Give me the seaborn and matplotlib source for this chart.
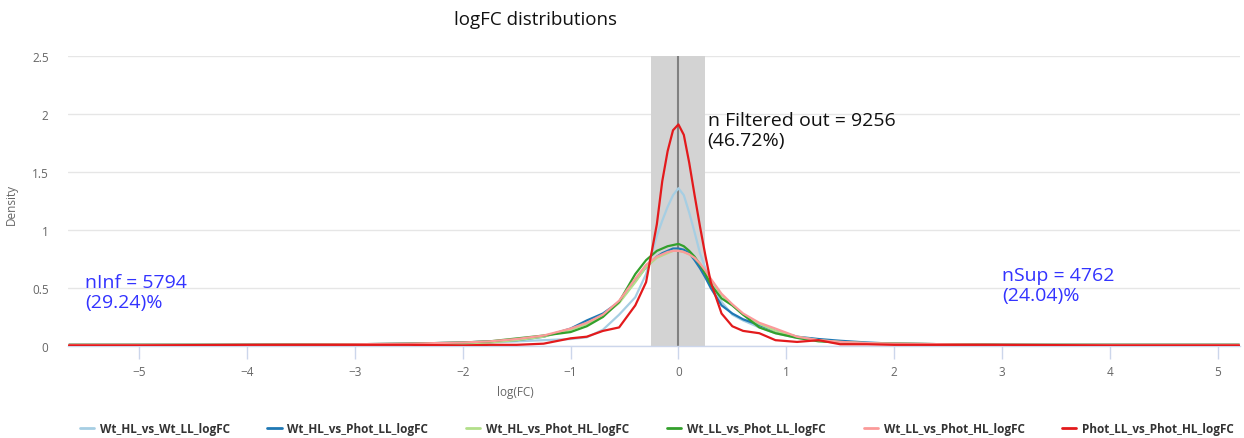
import numpy as np
import pandas as pd
import matplotlib
matplotlib.use("Agg")
import matplotlib.pyplot as plt
import seaborn as sns

# ---- data ----
x_vals = [-5.65, -5.0, -4.0, -3.0, -2.5, -2.0, -1.75, -1.5, -1.25, -1.0, -0.85, -0.7,
          -0.55, -0.4, -0.3, -0.2, -0.15, -0.1, -0.05, 0.0, 0.05, 0.1, 0.15, 0.2, 0.25, 0.3,
          0.4, 0.5, 0.6, 0.75, 0.9, 1.1, 1.3, 1.5, 1.75, 2.0, 2.5, 3.0, 4.0, 5.0, 5.2]

wt_hl_vs_wt_ll = [0.01, 0.01, 0.01, 0.01, 0.015, 0.02, 0.03, 0.04, 0.05, 0.06, 0.075, 0.14,
                  0.27, 0.42, 0.62, 0.95, 1.08, 1.2, 1.3, 1.36, 1.3, 1.15, 0.98, 0.80, 0.67, 0.55,
                  0.38, 0.27, 0.22, 0.16, 0.11, 0.07, 0.05, 0.035, 0.025, 0.02, 0.015, 0.01, 0.01,
                  0.01, 0.01]
wt_hl_vs_phot_ll = [0.01, 0.01, 0.01, 0.015, 0.02, 0.03, 0.04, 0.05, 0.08, 0.15, 0.22, 0.28,
                    0.38, 0.56, 0.68, 0.77, 0.80, 0.82, 0.84, 0.84, 0.83, 0.80, 0.74, 0.67, 0.59,
                    0.50, 0.35, 0.28, 0.23, 0.18, 0.13, 0.08, 0.06, 0.045, 0.03, 0.02, 0.015, 0.01,
                    0.01, 0.01, 0.01]
wt_hl_vs_phot_hl = [0.01, 0.01, 0.01, 0.015, 0.015, 0.02, 0.03, 0.05, 0.08, 0.14, 0.19, 0.26,
                    0.37, 0.55, 0.68, 0.76, 0.78, 0.80, 0.82, 0.82, 0.81, 0.79, 0.76, 0.71, 0.64,
                    0.57, 0.44, 0.35, 0.27, 0.19, 0.13, 0.08, 0.05, 0.035, 0.025, 0.02, 0.015, 0.01,
                    0.01, 0.01, 0.01]
wt_ll_vs_phot_ll = [0.01, 0.01, 0.01, 0.015, 0.02, 0.03, 0.04, 0.065, 0.09, 0.12, 0.17, 0.25,
                    0.38, 0.62, 0.74, 0.82, 0.84, 0.86, 0.87, 0.88, 0.86, 0.82, 0.77, 0.70, 0.62,
                    0.53, 0.41, 0.35, 0.27, 0.16, 0.11, 0.07, 0.04, 0.03, 0.02, 0.02, 0.015, 0.01,
                    0.01, 0.01, 0.01]
wt_ll_vs_phot_hl = [0.01, 0.01, 0.01, 0.015, 0.02, 0.03, 0.04, 0.06, 0.09, 0.15, 0.20, 0.27,
                    0.39, 0.58, 0.70, 0.77, 0.79, 0.81, 0.82, 0.82, 0.81, 0.79, 0.76, 0.71, 0.65,
                    0.58, 0.45, 0.36, 0.28, 0.20, 0.15, 0.08, 0.05, 0.035, 0.025, 0.02, 0.015, 0.01,
                    0.01, 0.01, 0.01]
phot_ll_vs_phot_hl = [0.005, 0.005, 0.01, 0.01, 0.01, 0.005, 0.01, 0.01, 0.02, 0.066, 0.08, 0.13,
                      0.16, 0.35, 0.55, 1.05, 1.42, 1.68, 1.86, 1.91, 1.82, 1.58, 1.30, 1.03, 0.78,
                      0.55, 0.28, 0.17, 0.13, 0.11, 0.05, 0.035, 0.05, 0.015, 0.015, 0.01, 0.01,
                      0.01, 0.005, 0.005, 0.005]

series_names = ["Wt_HL_vs_Wt_LL_logFC", "Wt_HL_vs_Phot_LL_logFC", "Wt_HL_vs_Phot_HL_logFC",
                "Wt_LL_vs_Phot_LL_logFC", "Wt_LL_vs_Phot_HL_logFC", "Phot_LL_vs_Phot_HL_logFC"]
series_values = [wt_hl_vs_wt_ll, wt_hl_vs_phot_ll, wt_hl_vs_phot_hl,
                 wt_ll_vs_phot_ll, wt_ll_vs_phot_hl, phot_ll_vs_phot_hl]
colors = ["#a6cee3", "#1f78b4", "#b2df8a", "#33a02c", "#fb9a99", "#e31a1c"]

x_ticks = [-5, -4, -3, -2, -1, 0, 1, 2, 3, 4, 5]
y_ticks = [0, 0.5, 1, 1.5, 2, 2.5]
y_ticklabels = ["0", "0.5", "1", "1.5", "2", "2.5"]

filter_low, filter_high = -0.25, 0.25
title = "logFC distributions"
filtered_text = "n Filtered out = 9256\n(46.72%)"
inf_text = "nInf = 5794\n(29.24)%"
sup_text = "nSup = 4762\n(24.04)%"

# ---- build long table ----
rows = []
for name, vals in zip(series_names, series_values):
    for xv, yv in zip(x_vals, vals):
        rows.append({"logFC": xv, "Density": yv, "series": name})
df = pd.DataFrame(rows)

sns.set_theme(style="white")
plt.rcParams["font.family"] = ["Open Sans", "DejaVu Sans"]

fig = plt.figure(figsize=(12.44, 4.39), dpi=100)
ax = fig.add_axes([0.0547, 0.2096, 0.9423, 0.6606])

ax.axvspan(filter_low, filter_high, color="#d3d3d3", zorder=1, lw=0)
ax.axvline(0, color="#808080", lw=1.5, zorder=2)

sns.lineplot(data=df, x="logFC", y="Density", hue="series", hue_order=series_names,
             palette=colors, linewidth=1.6, ax=ax, legend=False, zorder=3, sort=True)
for ln in ax.get_lines():
    ln.set_solid_joinstyle("round")

ax.set_xlim(-5.66, 5.21)
ax.set_ylim(0, 2.5)
ax.set_xticks(x_ticks)
ax.set_xticklabels([str(t).replace("-", "\u2212") for t in x_ticks])
ax.set_yticks(y_ticks)
ax.set_yticklabels(y_ticklabels)

ax.grid(axis="y", color="#e6e6e6", lw=1)
ax.grid(axis="x", visible=False)
for s in ["top", "right", "left"]:
    ax.spines[s].set_visible(False)
ax.spines["bottom"].set_color("#ccd6eb")
ax.spines["bottom"].set_linewidth(1)
ax.tick_params(axis="x", which="both", bottom=True, length=9, width=1, color="#ccd6eb",
               labelsize=8.5, labelcolor="#666666", pad=5)
ax.tick_params(axis="y", length=0, labelsize=8.5, labelcolor="#666666", pad=14)

ax.set_xlabel("log(FC)", fontsize=8.5, color="#666666")
ax.xaxis.set_label_coords(0.382, -0.135)
ax.set_ylabel("Density", fontsize=8.5, color="#666666")
ax.yaxis.set_label_coords(-0.043, 0.49)

fig.text(535 / 1244, 1 - 20 / 439, title, ha="center", va="center", fontsize=13.5, color="#111111")

ax.text(0.27, 2.03, filtered_text, ha="left", va="top", fontsize=14, color="#111111",
        linespacing=1.15, zorder=5)
ax.text(-5.5, 0.63, inf_text, ha="left", va="top", fontsize=14, color="#3333ff",
        linespacing=1.15)
ax.text(3.0, 0.69, sup_text, ha="left", va="top", fontsize=14, color="#3333ff",
        linespacing=1.15)

handles = [plt.Line2D([0], [0], color=c, lw=2) for c in colors]
leg = fig.legend(handles, series_names, loc="center", bbox_to_anchor=(0.528, 1 - 430 / 439),
                 ncol=6, frameon=False, fontsize=8.5, handlelength=1.2, handletextpad=0.5,
                 columnspacing=3.2)
for t in leg.get_texts():
    t.set_color("#333333")
    t.set_fontweight("bold")

fig.savefig("out.png", dpi=100)
